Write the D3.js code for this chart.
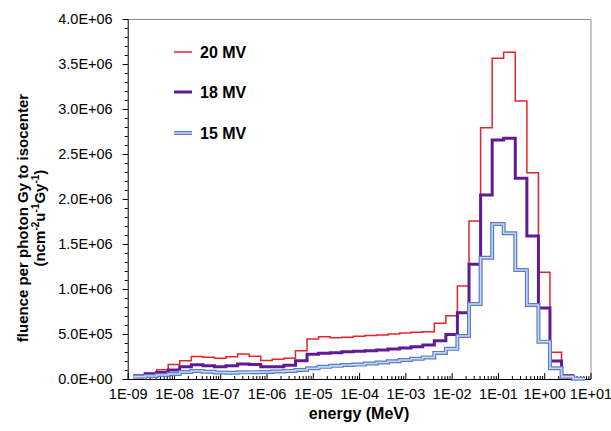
<!DOCTYPE html>
<html><head><meta charset="utf-8">
<script src="https://cdn.jsdelivr.net/npm/d3@7"></script>
<style>
body{margin:0;background:#fff;}
svg{display:block;font-family:"Liberation Sans",Arial,sans-serif;}
</style></head>
<body><svg id="c" width="611" height="431"></svg>
<script>
// bin edges (MeV), 39 bins
const binEdges = [
 1.33e-9,2.37e-9,4.22e-9,7.50e-9,
 1.33e-8,2.37e-8,4.22e-8,7.50e-8,
 1.33e-7,2.37e-7,4.22e-7,7.50e-7,
 1.33e-6,2.37e-6,4.22e-6,7.50e-6,
 1.33e-5,2.37e-5,4.22e-5,7.50e-5,
 1.33e-4,2.37e-4,4.22e-4,7.50e-4,
 1.33e-3,2.37e-3,4.22e-3,7.50e-3,
 1.33e-2,2.37e-2,4.22e-2,7.50e-2,
 1.33e-1,2.37e-1,4.22e-1,7.50e-1,
 1.33,2.37,4.22,7.50];
// fluence values (x 1E6)
const mv20 = [0.045,0.068,0.104,0.16,0.203,0.25,0.241,0.23,0.246,0.278,0.252,0.205,0.219,0.23,0.314,0.444,0.47,0.459,0.463,0.474,0.484,0.49,0.50,0.51,0.52,0.526,0.619,0.703,1.033,1.756,2.792,3.563,3.63,3.089,2.292,1.186,0.297,0.048,0.004];
const mv18 = [0.033,0.055,0.072,0.1,0.137,0.159,0.148,0.137,0.148,0.168,0.16,0.137,0.137,0.152,0.203,0.274,0.285,0.292,0.303,0.308,0.315,0.322,0.333,0.344,0.359,0.378,0.425,0.495,0.737,1.274,2.044,2.656,2.674,2.23,1.589,0.79,0.2,0.033,0.005];
const mv15 = [0.026,0.033,0.044,0.056,0.078,0.089,0.081,0.072,0.07,0.074,0.076,0.078,0.083,0.09,0.1,0.12,0.135,0.146,0.155,0.16,0.172,0.183,0.197,0.211,0.225,0.24,0.29,0.335,0.478,0.833,1.348,1.722,1.619,1.211,0.822,0.415,0.119,0.026,0.004];
const seriesNames = ["20 MV","18 MV","15 MV"];
const xTickValues = [1e-9,1e-8,1e-7,1e-6,1e-5,1e-4,1e-3,1e-2,1e-1,1,10];
const xTickLabels = ["1E-09","1E-08","1E-07","1E-06","1E-05","1E-04","1E-03","1E-02","1E-01","1E+00","1E+01"];
const yTickValues = [0,0.5e6,1e6,1.5e6,2e6,2.5e6,3e6,3.5e6,4e6];
const yTickLabels = ["0.0E+00","5.0E+05","1.0E+06","1.5E+06","2.0E+06","2.5E+06","3.0E+06","3.5E+06","4.0E+06"];

const svg = d3.select("#c");
const L=127.7, R=590.5, T=19, B=379;
const x = d3.scaleLog().domain([1e-9,10]).range([L,R]);
const y = d3.scaleLinear().domain([0,4e6]).range([B,T]);

// frame top/right
svg.append("path").attr("d",`M${L},${T+0.5}H${R+0.5}V${B}`).attr("fill","none").attr("stroke","#8c8c8c").attr("stroke-width",1);

// y minor ticks
const yMinor = d3.range(0,4e6+1,1e5);
svg.append("g").attr("transform",`translate(${L},0)`)
  .call(d3.axisLeft(y).tickValues(yMinor).tickSize(3).tickFormat(""))
  .call(g=>g.select(".domain").remove())
  .selectAll("line").attr("stroke","#000");
const yAx = svg.append("g").attr("transform",`translate(${L},0)`)
  .call(d3.axisLeft(y).tickValues(yTickValues).tickSize(5).tickPadding(10)
    .tickFormat((d,i)=>yTickLabels[i]));
yAx.select(".domain").attr("stroke","#000");
yAx.selectAll("text").attr("font-size","14.5px").attr("fill","#000").attr("font-family","Liberation Sans, Arial, sans-serif");

// x minor ticks (inside)
const xMinor=[];
for(let e=-9;e<1;e++) for(let m=2;m<=9;m++) xMinor.push(m*Math.pow(10,e));
svg.append("g").attr("transform",`translate(0,${B})`)
  .call(d3.axisBottom(x).tickValues(xMinor).tickSizeInner(-3).tickSizeOuter(0).tickFormat(""))
  .call(g=>g.select(".domain").remove())
  .selectAll("line").attr("stroke","#000");
const xAx = svg.append("g").attr("transform",`translate(0,${B})`)
  .call(d3.axisBottom(x).tickValues(xTickValues).tickSizeInner(-6).tickSizeOuter(0).tickPadding(10)
    .tickFormat((d,i)=>xTickLabels[i]));
xAx.select(".domain").attr("stroke","#000");
xAx.selectAll("text").attr("font-size","14.5px").attr("fill","#000").attr("font-family","Liberation Sans, Arial, sans-serif");

// series
const mk = vals => vals.map((v,i)=>[binEdges[i],v*1e6]).concat([[binEdges[vals.length],vals[vals.length-1]*1e6]]);
const line = d3.line().x(d=>x(d[0])).y(d=>y(d[1])).curve(d3.curveStepAfter);
const plot = svg.append("g");
plot.append("path").attr("d",line(mk(mv20))).attr("fill","none").attr("stroke","#e3242b").attr("stroke-width",1.5);
plot.append("path").attr("d",line(mk(mv18))).attr("fill","none").attr("stroke","#5e1b96").attr("stroke-width",3);
plot.append("path").attr("d",line(mk(mv15))).attr("fill","none").attr("stroke","#5a7cc6").attr("stroke-width",4);
plot.append("path").attr("d",line(mk(mv15))).attr("fill","none").attr("stroke","#c9d6f0").attr("stroke-width",1.6);

// legend
const lg = svg.append("g");
const legY=[52,92,133];
const legStyles=[[{c:"#e3242b",w:1.5}],[{c:"#5e1b96",w:3}],[{c:"#5a7cc6",w:4},{c:"#c9d6f0",w:1.6}]];
seriesNames.forEach((n,i)=>{
  legStyles[i].forEach(s=>lg.append("line").attr("x1",174).attr("x2",192).attr("y1",legY[i]).attr("y2",legY[i]).attr("stroke",s.c).attr("stroke-width",s.w));
  lg.append("text").attr("x",200).attr("y",legY[i]+5.5).attr("font-size","16px").attr("font-weight","bold").text(n);
});

// axis titles
svg.append("text").attr("x",(L+R)/2).attr("y",419).attr("text-anchor","middle").attr("font-size","16px").attr("font-weight","bold").text("energy (MeV)");
const yt = svg.append("text").attr("transform","translate(28,218) rotate(-90)").attr("text-anchor","middle").attr("font-size","15px").attr("font-weight","bold");
yt.append("tspan").attr("x",0).attr("y",0).text("fluence per photon Gy to isocenter");
const l2 = svg.append("text").attr("transform","translate(45,218) rotate(-90)").attr("text-anchor","middle").attr("font-size","15px").attr("font-weight","bold");
l2.append("tspan").text("(ncm");
l2.append("tspan").attr("font-size","10px").attr("dy","-6").text("-2");
l2.append("tspan").attr("dy","6").text("u");
l2.append("tspan").attr("font-size","10px").attr("dy","-6").text("-1");
l2.append("tspan").attr("dy","6").text("Gy");
l2.append("tspan").attr("font-size","10px").attr("dy","-6").text("-1");
l2.append("tspan").attr("dy","6").text(")");
</script></body></html>
